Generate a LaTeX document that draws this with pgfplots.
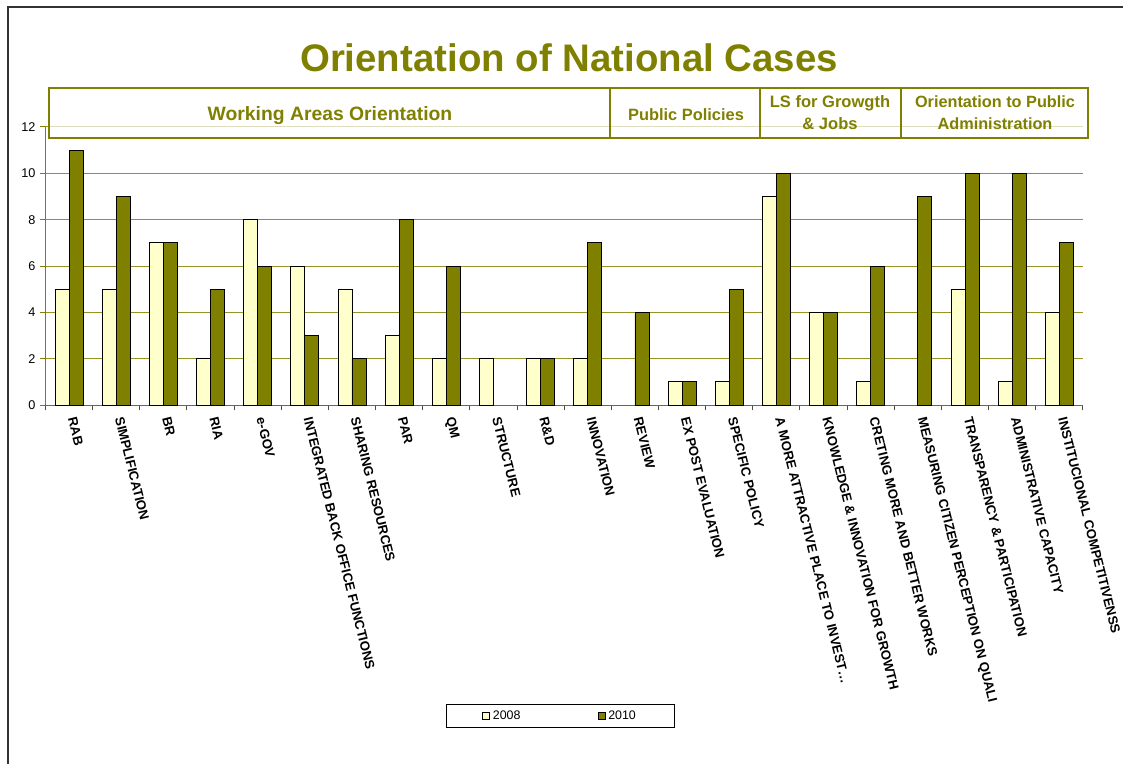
\documentclass[border=0pt]{standalone}
\usepackage{pgfplots}
\pgfplotsset{compat=1.18}
\usepackage{fontspec}
\setmainfont{Liberation Sans}
\definecolor{olv}{HTML}{808000}
\definecolor{lyel}{HTML}{FFFFCC}
\begin{document}
\begin{tikzpicture}
\useasboundingbox (0,0) rectangle (842.25pt,573pt);
\fill[white] (0,0) rectangle (842.25pt,573pt);
\begin{axis}[
  at={(34.1pt,269.25pt)}, anchor=south west,
  scale only axis, width=778.1pt, height=208.5pt,
  ybar=0pt, bar width=10.5pt,
  xmin=-0.5, xmax=21.5, ymin=0, ymax=12,
  axis x line*=bottom, axis y line*=left,
  x axis line style={black!60, line width=0.75pt, -},
  y axis line style={olv, line width=0.75pt, -},
  xtick={0,...,21},
  xticklabels={RAB,SIMPLIFICATION,BR,RIA,e-GOV,INTEGRATED BACK OFFICE FUNCTIONS,SHARING RESOURCES,PAR,QM,STRUCTURE,R\&D,INNOVATION,REVIEW,EX POST EVALUATION,SPECIFIC POLICY,A MORE ATTRACTIVE PLACE TO INVEST…,KNOWLEDGE \& INNOVATION FOR GROWTH,CRETING MORE AND BETTER WORKS,MEASURING CITIZEN PERCEPTION ON QUALI,TRANSPARENCY \& PARTICIPATION,ADMINISTRATIVE CAPACITY,INSTITUCIONAL COMPETITIVENSS},
  minor xtick={-0.5,0.5,...,21.5},
  major x tick style={draw=none},
  minor x tick style={black!70, line width=0.75pt},
  minor tick length=4pt,
  ytick={0,2,...,12},
  ytick style={olv, line width=0.75pt},
  major tick length=4pt,
  tick align=outside,
  xtick pos=bottom, ytick pos=left,
  ymajorgrids=true,
  major grid style={olv!85, line width=0.75pt},
  /pgf/number format/assume math mode=true,
  yticklabel style={font=\fontsize{9.5}{10}\selectfont},
  xticklabel style={font=\bfseries\fontsize{9.9}{10}\selectfont, xshift=1.5pt, yshift=-2pt, rotate=-76, anchor=west},
  legend columns=2,
  legend image code/.code={\draw[#1, line width=0.6pt] (0pt,-2.6pt) rectangle (5.25pt,2.6pt);},
  legend style={at={(0.4964,-1.1187)}, anchor=center, draw=black, line width=0.75pt,
    font=\fontsize{9.3}{10}\selectfont, inner xsep=27pt, inner ysep=2.5pt},
]
\addplot[fill=lyel, draw=black, line width=0.6pt] coordinates {
(0,5)(1,5)(2,7)(3,2)(4,8)(5,6)(6,5)(7,3)(8,2)(9,2)(10,2)(11,2)(13,1)(14,1)(15,9)(16,4)(17,1)(19,5)(20,1)(21,4)};
\addlegendentry{2008\hspace*{56pt}}
\addplot[fill=olv, draw=black, line width=0.6pt] coordinates {
(0,11)(1,9)(2,7)(3,5)(4,6)(5,3)(6,2)(7,8)(8,6)(10,2)(11,7)(12,4)(13,1)(14,5)(15,10)(16,4)(17,6)(18,9)(19,10)(20,10)(21,7)};
\addlegendentry{2010}
\end{axis}
% header boxes
\draw[olv, line width=0.9pt, fill=white, fill opacity=0.7] (36.75pt,469.5pt) rectangle (816pt,507pt);
\draw[olv, line width=0.9pt] (457.5pt,469.5pt) -- (457.5pt,507pt)
  (570pt,469.5pt) -- (570pt,507pt) (675.75pt,469.5pt) -- (675.75pt,507pt);
\node[olv, font=\bfseries\fontsize{14.5}{16}\selectfont] at (247.5pt,486.5pt) {Working Areas Orientation};
\node[olv, font=\bfseries\fontsize{12.3}{16}\selectfont] at (514.5pt,486.75pt) {Public Policies};
\node[olv, font=\bfseries\fontsize{12.4}{16.5}\selectfont, align=center] at (622.5pt,488.25pt) {LS for Growgth\\\& Jobs};
\node[olv, font=\bfseries\fontsize{12.2}{16.5}\selectfont, align=center] at (746.25pt,488.25pt) {Orientation to Public\\Administration};
% title
\node[olv, font=\bfseries\fontsize{28.8}{32}\selectfont] at (426.75pt,529.5pt) {Orientation of National Cases};
% frame
\draw[line width=1.5pt, black!80] (6pt,0) -- (6pt,567.75pt) -- (842.25pt,567.75pt);
\end{tikzpicture}
\end{document}
